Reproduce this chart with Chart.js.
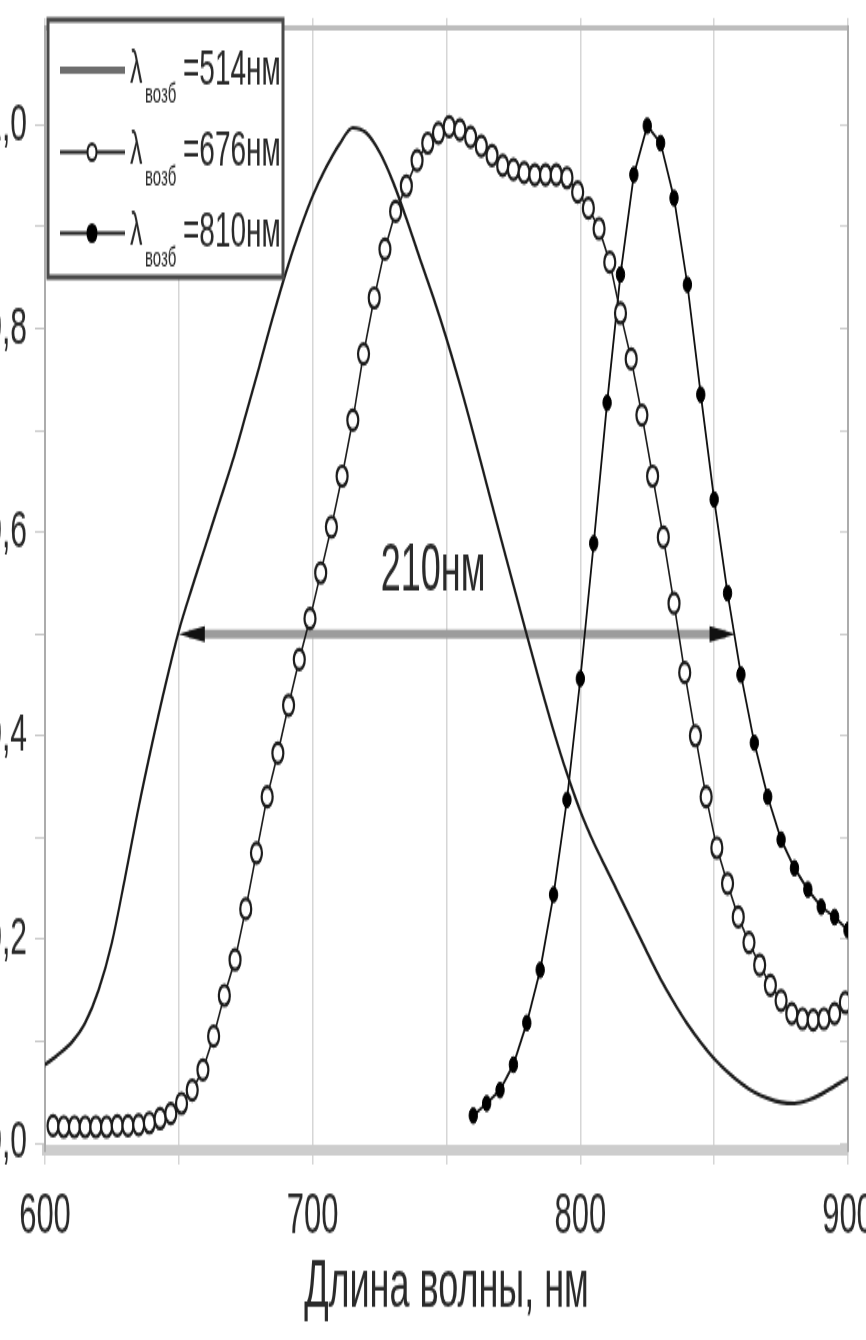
<!DOCTYPE html>
<html><head><meta charset="utf-8">
<script src="https://cdn.jsdelivr.net/npm/chart.js@4.4.1/dist/chart.umd.min.js"></script>
<style>
html,body{margin:0;padding:0;background:#fff;width:866px;height:1340px;overflow:hidden;}
#wrap{position:absolute;left:-30px;top:0;width:940px;height:745px;transform:scaleY(1.8);transform-origin:0 0;}
canvas{display:block;}
</style></head><body>
<div id="wrap"><canvas id="c" width="940" height="745"></canvas></div>
<script>
const FONT = "'Liberation Sans', Arial, sans-serif";

const seriesLabels = ['λвозб=514нм', 'λвозб=676нм', 'λвозб=810нм'];
const xTitle = 'Длина волны, нм';

const solidX = [600,605,610,615,620,625,630,635,640,645,650,655,660,665,670,675,680,685,690,695,700,705,710,715,720,725,730,735,740,745,750,755,760,765,770,775,780,785,790,795,800,805,810,815,820,825,830,835,840,845,850,855,860,865,870,875,880,885,890,895,900];
const solidY = [0.077,0.087,0.099,0.118,0.15,0.197,0.262,0.33,0.392,0.45,0.503,0.546,0.587,0.628,0.669,0.715,0.762,0.81,0.855,0.895,0.93,0.958,0.981,0.997,0.992,0.973,0.944,0.908,0.869,0.831,0.79,0.745,0.697,0.647,0.597,0.548,0.499,0.451,0.405,0.363,0.326,0.295,0.268,0.241,0.214,0.187,0.161,0.138,0.117,0.099,0.083,0.07,0.059,0.05,0.044,0.04,0.039,0.042,0.048,0.056,0.064];

const openX = [603,607,611,615,619,623,627,631,635,639,643,647,651,655,659,663,667,671,675,679,683,687,691,695,699,703,707,711,715,719,723,727,731,735,739,743,747,751,755,759,763,767,771,775,779,783,787,791,795,799,803,807,811,815,819,823,827,831,835,839,843,847,851,855,859,863,867,871,875,879,883,887,891,895,899];
const openY = [0.017,0.016,0.016,0.016,0.016,0.016,0.017,0.017,0.018,0.02,0.024,0.029,0.039,0.052,0.072,0.105,0.145,0.18,0.23,0.285,0.34,0.383,0.43,0.475,0.515,0.56,0.605,0.655,0.71,0.775,0.83,0.878,0.915,0.94,0.965,0.982,0.992,0.998,0.995,0.988,0.979,0.97,0.96,0.956,0.953,0.951,0.951,0.951,0.948,0.934,0.918,0.898,0.865,0.815,0.77,0.715,0.655,0.595,0.53,0.462,0.40,0.34,0.29,0.255,0.222,0.197,0.175,0.155,0.14,0.127,0.122,0.121,0.122,0.127,0.138];

const filledX = [760,765,770,775,780,785,790,795,800,805,810,815,820,825,830,835,840,845,850,855,860,865,870,875,880,885,890,895,900];
const filledY = [0.027,0.039,0.052,0.077,0.118,0.17,0.244,0.337,0.456,0.589,0.727,0.853,0.951,0.999,0.982,0.928,0.843,0.735,0.632,0.54,0.46,0.393,0.34,0.298,0.27,0.249,0.232,0.222,0.209];

const xTickValues = [600,650,700,750,800,850,900];
const xTickLabels = ['600','','700','','800','','900'];
const yTickValues = [0,0.1,0.2,0.3,0.4,0.5,0.6,0.7,0.8,0.9,1.0];
const yTickLabels = ['0,0','','0,2','','0,4','','0,6','','0,8','','1,0'];

const fwhmRange = [650, 858];
const fwhmLevel = [0.5];
const fwhmText = ['210нм'];
const fwhmTextPos = [745, 0.56];

const pts = (xs, ys) => xs.map((x, i) => ({x: x, y: ys[i]}));

const fwhmPlugin = {
  id: 'fwhm',
  beforeDatasetsDraw(chart) {
    const ctx = chart.ctx, xs = chart.scales.x, ys = chart.scales.y;
    const x1 = xs.getPixelForValue(fwhmRange[0]);
    const x2 = xs.getPixelForValue(fwhmRange[1]);
    const y = ys.getPixelForValue(fwhmLevel[0]);
    ctx.save();
    ctx.strokeStyle = '#9c9c9c';
    ctx.lineWidth = 5;
    ctx.beginPath(); ctx.moveTo(x1 + 10, y); ctx.lineTo(x2 - 10, y); ctx.stroke();
    ctx.fillStyle = '#111';
    ctx.beginPath(); ctx.moveTo(x1, y); ctx.lineTo(x1 + 26, y - 4.5); ctx.lineTo(x1 + 26, y + 4.5); ctx.closePath(); ctx.fill();
    ctx.beginPath(); ctx.moveTo(x2, y); ctx.lineTo(x2 - 26, y - 4.5); ctx.lineTo(x2 - 26, y + 4.5); ctx.closePath(); ctx.fill();
    ctx.fillStyle = '#2a2a2a';
    ctx.font = '36px ' + FONT;
    ctx.textAlign = 'center'; ctx.textBaseline = 'middle';
    ctx.fillText(fwhmText[0], xs.getPixelForValue(fwhmTextPos[0]), ys.getPixelForValue(fwhmTextPos[1]));
    ctx.restore();
  }
};

const legendPlugin = {
  id: 'boxLegend',
  afterDatasetsDraw(chart) {
    const ctx = chart.ctx, ca = chart.chartArea;
    const bx = ca.left + 3, by = 11, bw = 235, bh = 143;
    ctx.save();
    ctx.fillStyle = '#fff';
    ctx.fillRect(bx, by, bw, bh);
    ctx.strokeStyle = '#4a4a4a'; ctx.lineWidth = 3;
    ctx.strokeRect(bx, by, bw, bh);
    const rows = [39, 84.5, 129.5];
    chart.data.datasets.forEach((ds, i) => {
      const ry = rows[i];
      const parts = ds.label.split('возб');
      if (i === 0) {
        ctx.strokeStyle = '#6e6e6e'; ctx.lineWidth = 4;
        ctx.beginPath(); ctx.moveTo(bx + 12, ry); ctx.lineTo(bx + 77, ry); ctx.stroke();
      } else {
        ctx.strokeStyle = '#1c1c1c'; ctx.lineWidth = 1.8;
        ctx.beginPath(); ctx.moveTo(bx + 12, ry); ctx.lineTo(bx + 77, ry); ctx.stroke();
        ctx.beginPath(); ctx.arc(bx + 44, ry, i === 1 ? 4.5 : 5.5, 0, Math.PI * 2);
        if (i === 1) { ctx.fillStyle = '#fff'; ctx.fill(); ctx.lineWidth = 2; ctx.stroke(); }
        else { ctx.fillStyle = '#000'; ctx.fill(); }
      }
      ctx.fillStyle = '#2a2a2a';
      ctx.textAlign = 'left'; ctx.textBaseline = 'middle';
      ctx.font = '25px ' + FONT;
      ctx.fillText(parts[0], bx + 82, ry);
      ctx.font = '15px ' + FONT;
      ctx.fillText('возб', bx + 97, ry + 14);
      ctx.font = '28px ' + FONT;
      ctx.fillText(parts[1], bx + 135, ry);
    });
    ctx.restore();
  }
};

const noPadV = s => { s.paddingTop = 0; s.paddingBottom = 0; };
const noPadH = s => { s.paddingLeft = 0; s.paddingRight = 0; };

new Chart(document.getElementById('c'), {
  type: 'line',
  data: {
    datasets: [
      {label: seriesLabels[0], data: pts(solidX, solidY), borderColor: '#1c1c1c', borderWidth: 2.2, pointRadius: 0, cubicInterpolationMode: 'monotone', fill: false},
      {label: seriesLabels[1], data: pts(openX, openY), borderColor: '#1c1c1c', borderWidth: 1.6, pointRadius: 5.5, pointBorderWidth: 2.2, pointBackgroundColor: '#fff', pointBorderColor: '#1c1c1c', tension: 0, fill: false},
      {label: seriesLabels[2], data: pts(filledX, filledY), borderColor: '#111', borderWidth: 1.8, pointRadius: 4.2, pointBorderWidth: 1, pointBackgroundColor: '#000', pointBorderColor: '#000', tension: 0, fill: false}
    ]
  },
  options: {
    responsive: false, animation: false, devicePixelRatio: 1,
    layout: {padding: 0},
    plugins: {legend: {display: false}, tooltip: {enabled: false}},
    scales: {
      x: {
        type: 'linear', position: 'bottom', min: 600, max: 900,
        afterBuildTicks: s => { s.ticks = xTickValues.map(v => ({value: v})); },
        afterFit: s => { s.height = 106; noPadH(s); },
        grid: {color: '#d6d6d6', lineWidth: 1.5, tickLength: 8, drawTicks: true},
        border: {display: true, color: '#cdcdcd', width: 6},
        ticks: {color: '#2a2a2a', font: {family: FONT, size: 31}, padding: 11, maxRotation: 0, autoSkip: false, callback: (v, i) => xTickLabels[i]},
        title: {display: true, text: xTitle, color: '#2a2a2a', font: {family: FONT, size: 36}, padding: {top: 0, bottom: 7}}
      },
      x2: {
        type: 'linear', position: 'top', min: 600, max: 900,
        afterBuildTicks: s => { s.ticks = xTickValues.map(v => ({value: v})); },
        afterFit: s => { s.height = 15; noPadH(s); },
        grid: {drawOnChartArea: false, color: '#d6d6d6', lineWidth: 1.5, tickLength: 5},
        border: {display: true, color: '#bdbdbd', width: 3},
        ticks: {display: false}
      },
      y: {
        type: 'linear', position: 'left', min: -0.007, max: 1.096,
        afterBuildTicks: s => { s.ticks = yTickValues.map(v => ({value: v})); },
        afterFit: s => { s.width = 75; noPadV(s); },
        grid: {drawOnChartArea: false, color: '#c8c8c8', tickLength: 10},
        border: {display: true, color: '#acacac', width: 2},
        ticks: {color: '#2a2a2a', font: {family: FONT, size: 30}, padding: 8, autoSkip: false, callback: (v, i) => yTickLabels[i]}
      },
      y2: {
        type: 'linear', position: 'right', min: -0.007, max: 1.096,
        afterBuildTicks: s => { s.ticks = yTickValues.map(v => ({value: v})); },
        afterFit: s => { s.width = 62; noPadV(s); },
        grid: {drawOnChartArea: false, color: '#cfcfcf', tickLength: -8},
        border: {display: true, color: '#acacac', width: 2},
        ticks: {display: false}
      }
    }
  },
  plugins: [fwhmPlugin, legendPlugin]
});
</script>
</body></html>
